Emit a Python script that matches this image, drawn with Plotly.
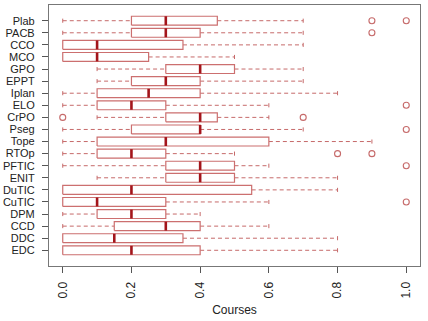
import plotly.graph_objects as go

categories = ["Plab", "PACB", "CCO", "MCO", "GPO", "EPPT", "Iplan", "ELO", "CrPO", "Pseg",
              "Tope", "RTOp", "PFTIC", "ENIT", "DuTIC", "CuTIC", "DPM", "CCD", "DDC", "EDC"]
lower_whisker = [0.0, 0.0, 0.0, 0.0, 0.1, 0.1, 0.0, 0.0, 0.1, 0.0,
                 0.0, 0.0, 0.0, 0.1, 0.0, 0.0, 0.0, 0.0, 0.0, 0.0]
q1 = [0.2, 0.2, 0.0, 0.0, 0.3, 0.2, 0.1, 0.1, 0.3, 0.2,
      0.1, 0.1, 0.3, 0.3, 0.0, 0.0, 0.1, 0.15, 0.0, 0.0]
median = [0.3, 0.3, 0.1, 0.1, 0.4, 0.3, 0.25, 0.2, 0.4, 0.4,
          0.3, 0.2, 0.4, 0.4, 0.2, 0.1, 0.2, 0.3, 0.15, 0.2]
q3 = [0.45, 0.4, 0.35, 0.25, 0.5, 0.4, 0.4, 0.3, 0.45, 0.4,
      0.6, 0.3, 0.5, 0.5, 0.55, 0.3, 0.3, 0.4, 0.35, 0.4]
upper_whisker = [0.7, 0.7, 0.7, 0.5, 0.7, 0.7, 0.8, 0.6, 0.6, 0.7,
                 0.9, 0.5, 0.6, 0.8, 0.8, 0.6, 0.4, 0.6, 0.8, 0.8]
outliers = [[0.9, 1.0], [0.9], [], [], [], [], [], [1.0], [0.0, 0.7], [1.0],
            [], [0.8, 0.9], [1.0], [], [], [1.0], [], [], [], []]
x_ticks = [0.0, 0.2, 0.4, 0.6, 0.8, 1.0]
x_tick_labels = ["0.0", "0.2", "0.4", "0.6", "0.8", "1.0"]

n = len(categories)

BOX_COL = "#cc6f6f"
MED_COL = "#a3151b"
WHISK_COL = "#c66a6a"
HALF = 0.37
STAPLE = 0.17

pos = [n - i for i in range(n)]  # first category at top

bx, by, mx, my, wx, wy, sx, sy, ox, oy = [], [], [], [], [], [], [], [], [], []
for i in range(n):
    p = pos[i]
    bx += [q1[i], q3[i], q3[i], q1[i], q1[i], None]
    by += [p - HALF, p - HALF, p + HALF, p + HALF, p - HALF, None]
    mx += [median[i], median[i], None]
    my += [p - HALF, p + HALF, None]
    if lower_whisker[i] < q1[i]:
        wx += [lower_whisker[i], q1[i], None]
        wy += [p, p, None]
        sx += [lower_whisker[i], lower_whisker[i], None]
        sy += [p - STAPLE, p + STAPLE, None]
    if upper_whisker[i] > q3[i]:
        wx += [q3[i], upper_whisker[i], None]
        wy += [p, p, None]
        sx += [upper_whisker[i], upper_whisker[i], None]
        sy += [p - STAPLE, p + STAPLE, None]
    for o in outliers[i]:
        ox.append(o)
        oy.append(p)

fig = go.Figure()
fig.add_trace(go.Scatter(x=wx, y=wy, mode="lines",
                         line=dict(color=WHISK_COL, width=1, dash="4px,3px"), hoverinfo="skip"))
fig.add_trace(go.Scatter(x=sx, y=sy, mode="lines",
                         line=dict(color=WHISK_COL, width=1), hoverinfo="skip"))
fig.add_trace(go.Scatter(x=bx, y=by, mode="lines", fill="toself", fillcolor="white",
                         line=dict(color=BOX_COL, width=1.2), hoverinfo="skip"))
fig.add_trace(go.Scatter(x=mx, y=my, mode="lines",
                         line=dict(color=MED_COL, width=2.6), hoverinfo="skip"))
fig.add_trace(go.Scatter(x=ox, y=oy, mode="markers",
                         marker=dict(symbol="circle-open", size=6, color=WHISK_COL,
                                     line=dict(width=1.1, color=WHISK_COL)),
                         hoverinfo="skip"))

fig.update_layout(
    width=428, height=321,
    margin=dict(l=49, r=8, t=5, b=55),
    paper_bgcolor="white", plot_bgcolor="white",
    showlegend=False,
    font=dict(family="Liberation Sans, Arial, sans-serif", color="black"),
)
fig.update_xaxes(
    range=[-0.04, 1.04], tickvals=x_ticks, ticktext=x_tick_labels,
    tickangle=-90, ticks="outside", ticklen=6, tickcolor="#555",
    tickfont=dict(size=12, color="#222"), ticklabelstandoff=4,
    showgrid=False, zeroline=False, automargin=False,
    showline=True, linecolor="#777", linewidth=1.2, mirror=True,
    title=dict(text="Courses", font=dict(size=12, color="#222"), standoff=8),
)
fig.update_yaxes(
    range=[0.5 - 0.04 * n, n + 0.5 + 0.04 * n],
    tickvals=pos, ticktext=categories,
    ticks="outside", ticklen=6, tickcolor="#555",
    tickfont=dict(size=11, color="#222"), ticklabelstandoff=5,
    showgrid=False, zeroline=False, automargin=False,
    showline=True, linecolor="#777", linewidth=1.2, mirror=True,
)

fig.write_html("out.html", config={"displayModeBar": False},
               post_script="document.body.style.margin='0';document.body.style.overflow='hidden';")
